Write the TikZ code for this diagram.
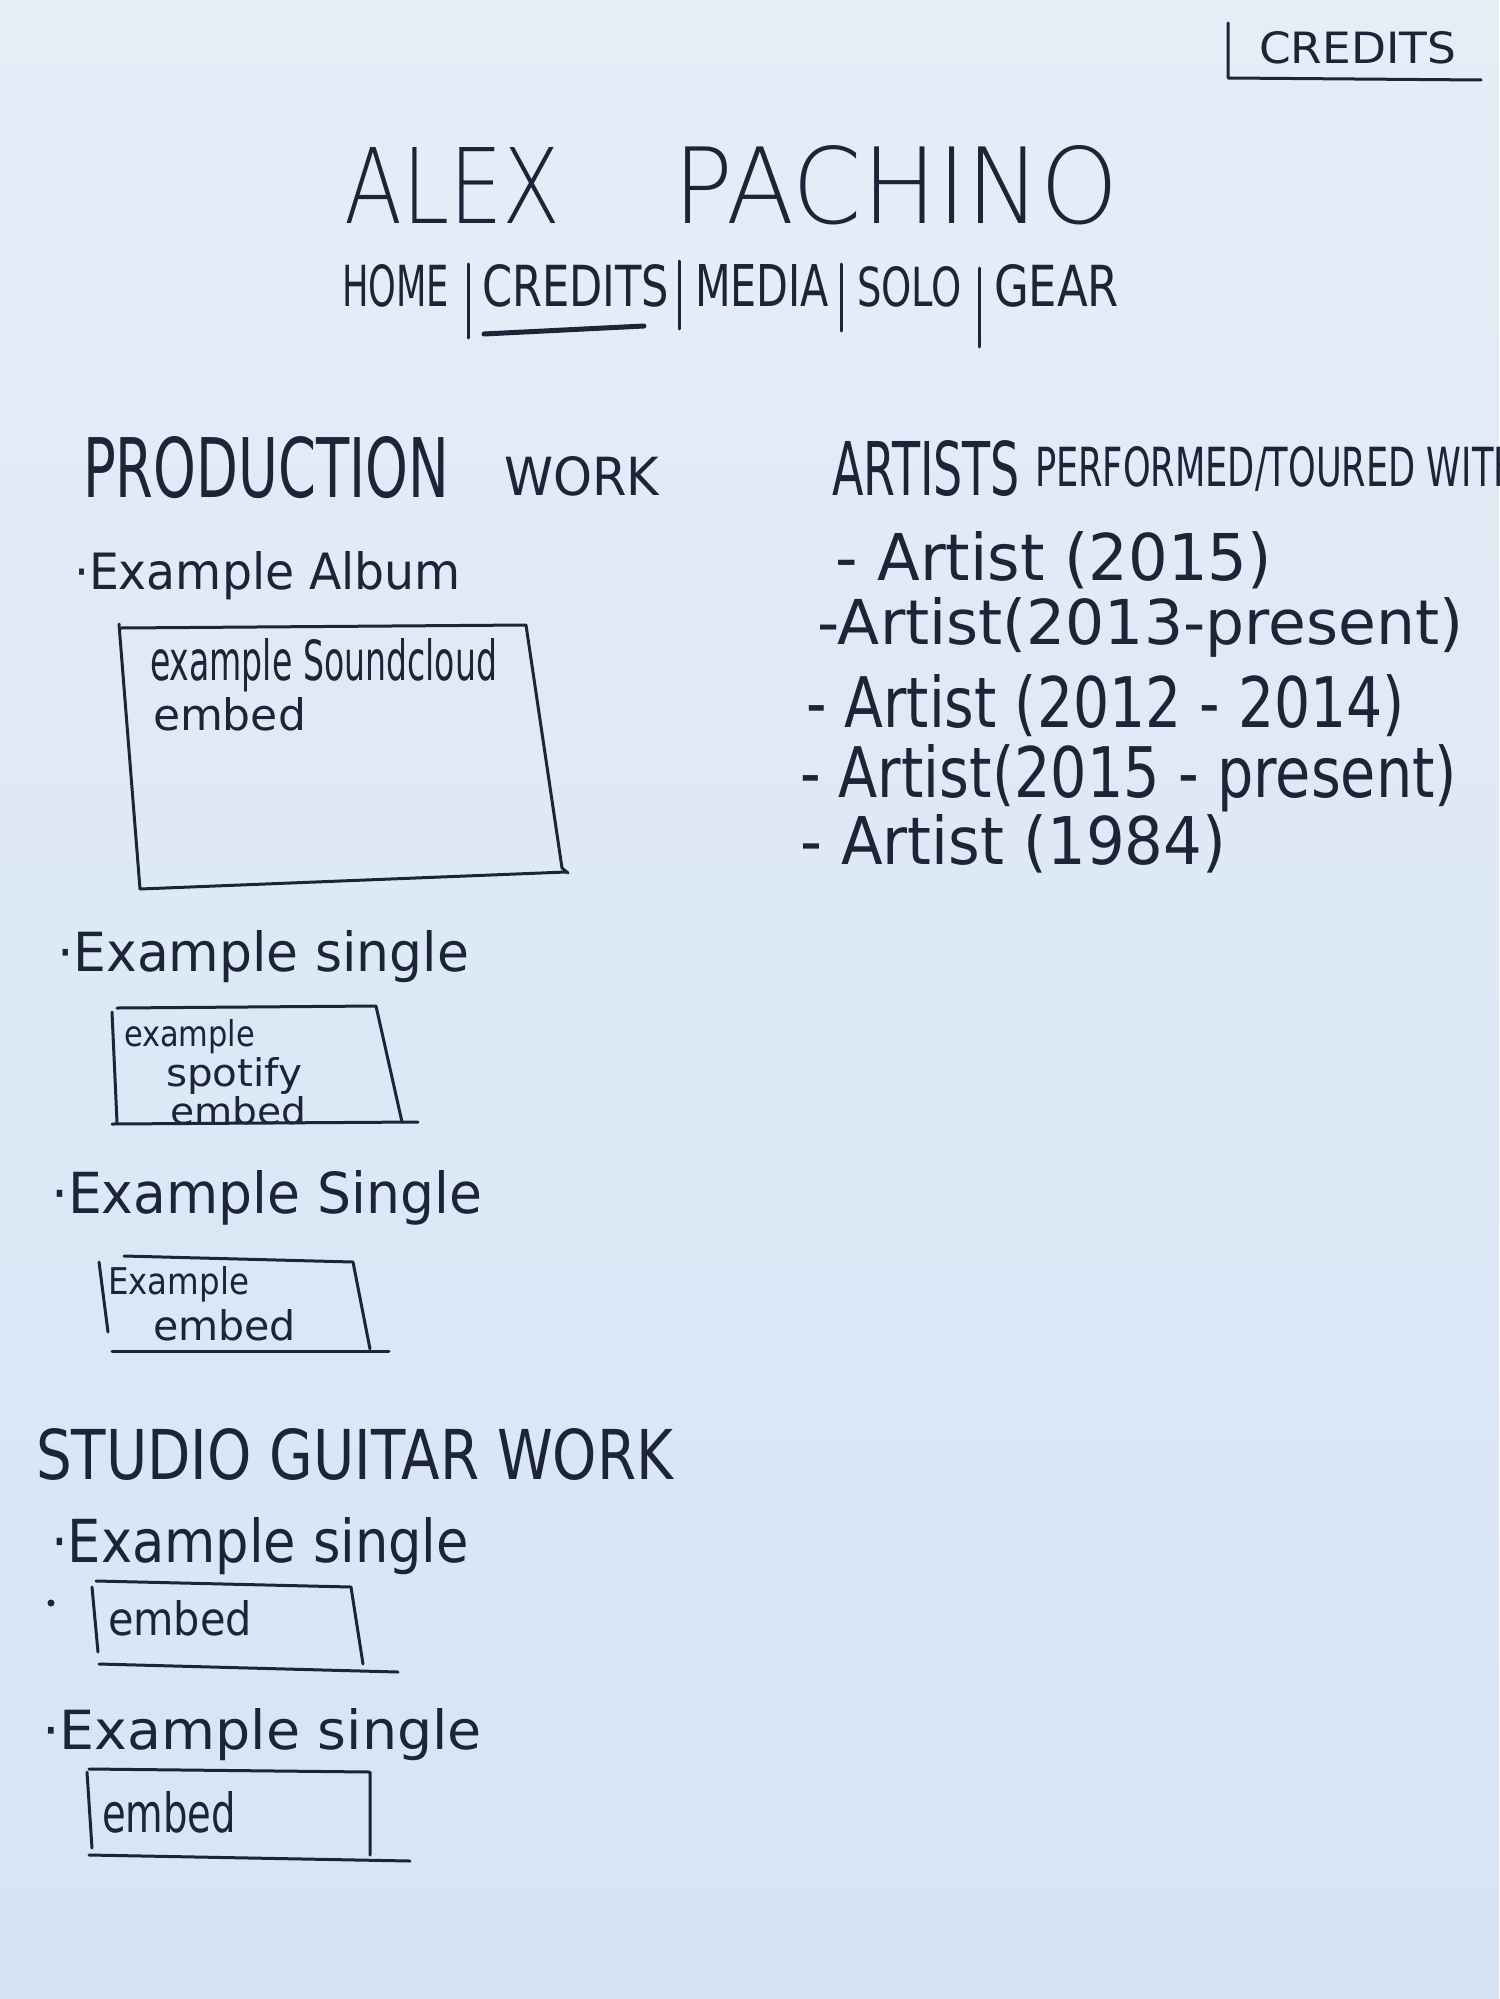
\documentclass[tikz,border=0pt]{standalone}
\usepackage{fontspec}
\usepackage{graphicx}
\setmainfont{DejaVu Sans}
\IfFontExistsTF{DejaVu Sans ExtraLight}{\newfontfamily\thinfont{DejaVu Sans ExtraLight}}{\newfontfamily\thinfont{DejaVu Sans}}
\definecolor{ink}{RGB}{28,37,56}
\definecolor{papertop}{RGB}{229,237,247}
\definecolor{paperbot}{RGB}{214,228,245}
\newcommand{\fitto}[3]{\resizebox{#1pt}{#2pt}{#3}}
\tikzset{
  txt/.style={anchor=base west, inner sep=0pt, outer sep=0pt, text=ink},
  inkline/.style={draw=ink, line width=3pt, line cap=round, line join=round},
  boldline/.style={draw=ink, line width=5pt, line cap=round}
}
\begin{document}
\begin{tikzpicture}[x=1pt, y=-1pt]
\useasboundingbox (0,0) rectangle (1499,1999);
\shade[top color=papertop, bottom color=paperbot] (0,0) rectangle (1499,1999);

% top-right tab
\node[txt] (tab) at (1259,64) {\fitto{197}{32}{CREDITS}};
\draw[inkline] (1228,23) -- (1228,78) -- (1481,80);

% title
\node[txt] (alex) at (344,223) {\fitto{217}{76}{\thinfont ALEX}};
\node[txt] (pachino) at (673,223) {\fitto{446}{78}{\thinfont PACHINO}};

% navigation
\node[txt] (home) at (342,306) {\fitto{107}{42}{HOME}};
\node[txt] (credits) at (482,306) {\fitto{187}{42}{CREDITS}};
\node[txt] (media) at (695,306) {\fitto{134}{42}{MEDIA}};
\node[txt] (solo) at (857,306) {\fitto{105}{40}{SOLO}};
\node[txt] (gear) at (994,306) {\fitto{125}{42}{GEAR}};
\draw[inkline] (468,264) -- (468,338);
\draw[inkline] (679,261) -- (679,329);
\draw[inkline] (841,264) -- (841,331);
\draw[inkline] (979,268) -- (979,347);
\draw[boldline] (484,334) -- (644,326);

% production work
\node[txt] (prod) at (83,497) {\fitto{366}{61}{PRODUCTION}};
\node[txt] (prodwork) at (504,495) {\fitto{155}{39}{WORK}};

% artists performed
\begin{scope}
\clip (0,0) rectangle (1499,1999);
\node[txt] (artists) at (832,495) {\fitto{188}{55}{ARTISTS}};
\node[txt] (performed) at (1035,486) {\fitto{485}{40}{PERFORMED/TOURED WITH}};
\end{scope}
\node[txt] (a1) at (835,580) {\fitto{437}{49}{- Artist (2015)}};
\node[txt] (a2) at (817,644) {\fitto{646}{47}{-Artist(2013-present)}};
\node[txt] (a3) at (806,727) {\fitto{599}{53}{- Artist (2012 - 2014)}};
\node[txt] (a4) at (800,797) {\fitto{657}{53}{- Artist(2015 - present)}};
\node[txt] (a5) at (800,864) {\fitto{426}{50}{- Artist (1984)}};

% example album
\node[txt] (album) at (74,589) {\fitto{387}{38}{·Example Album}};
\draw[inkline] (121,628) -- (526,625) -- (562,868) -- (568,873);
\draw[inkline] (119,624) -- (140,889) -- (566,872);
\node[txt] (sc1) at (150,680) {\fitto{347}{42}{example Soundcloud}};
\node[txt] (sc2) at (153,730) {\fitto{153}{33}{embed}};

% example single (spotify)
\node[txt] (single1) at (57,971) {\fitto{412}{41}{·Example single}};
\draw[inkline] (117,1008) -- (376,1006) -- (402,1122);
\draw[inkline] (112,1012) -- (117,1122);
\draw[inkline] (112,1124) -- (418,1122);
\node[txt] (sp1) at (124,1046) {\fitto{131}{27}{example}};
\node[txt] (sp2) at (166,1086) {\fitto{136}{29}{spotify}};
\node[txt] (sp3) at (170,1124) {\fitto{136}{28}{embed}};

% example single (embed)
\node[txt] (single2) at (51,1213) {\fitto{431}{43}{·Example Single}};
\draw[inkline] (124,1256) -- (353,1262) -- (370,1349);
\draw[inkline] (99,1262) -- (108,1332);
\draw[inkline] (112,1351) -- (389,1351);
\node[txt] (em1) at (108,1294) {\fitto{141}{28}{Example}};
\node[txt] (em2) at (153,1340) {\fitto{143}{31}{embed}};

% studio guitar work
\node[txt] (studio) at (36,1479) {\fitto{637}{51}{STUDIO GUITAR WORK}};

\node[txt] (single3) at (51,1562) {\fitto{418}{45}{·Example single}};
\fill[ink] (51,1603) circle (3.5);
\draw[inkline] (96,1581) -- (351,1587) -- (363,1664);
\draw[inkline] (92,1587) -- (98,1652);
\draw[inkline] (99,1664) -- (398,1672);
\node[txt] (em3) at (108,1635) {\fitto{144}{35}{embed}};

\node[txt] (single4) at (42,1749) {\fitto{440}{41}{·Example single}};
\draw[inkline] (89,1769) -- (370,1772) -- (370,1855);
\draw[inkline] (87,1772) -- (92,1848);
\draw[inkline] (89,1855) -- (410,1861);
\node[txt] (em4) at (102,1832) {\fitto{134}{41}{embed}};
\end{tikzpicture}
\end{document}
